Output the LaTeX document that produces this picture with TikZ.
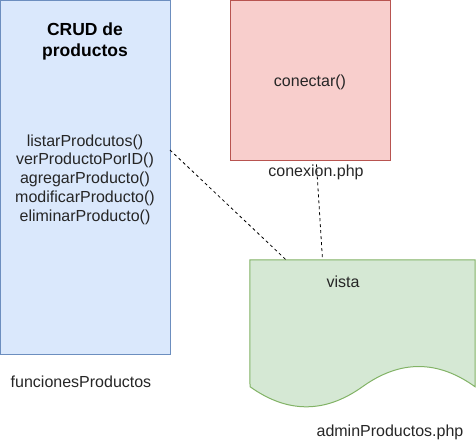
\documentclass[tikz,border=0pt]{standalone}
\usepackage{fontspec}
\setmainfont{Liberation Sans}
\usepackage{xcolor}
\usetikzlibrary{positioning, calc}

\definecolor{crudFill}{HTML}{DAE8FC}
\definecolor{crudLine}{HTML}{6C8EBF}
\definecolor{connFill}{HTML}{F8CECC}
\definecolor{connLine}{HTML}{B85450}
\definecolor{viewFill}{HTML}{D5E8D4}
\definecolor{viewLine}{HTML}{82B366}

\begin{document}
\begin{tikzpicture}[
    x=1pt, y=-1pt,
    module/.style={draw, rectangle, line width=1pt, outer sep=0pt, inner sep=0pt},
    label/.style={inner sep=0pt, text=black!85, align=center, font=\fontsize{16}{18.8}\selectfont},
    title/.style={inner sep=0pt, text=black, align=center, font=\bfseries\fontsize{17.5}{20.7}\selectfont},
    link/.style={draw, line width=0.8pt, dash pattern=on 3pt off 3pt}
]
    \useasboundingbox (0,0) rectangle (476,441);

    % Nodes
    \node[module, fill=crudFill, draw=crudLine, minimum width=169.5pt, minimum height=353.5pt] (crud) at (85.25,177.25) {};
    \node[title] (crudTitle) at (85,41.5) {CRUD de\\productos};
    \node[label] (crudMethods) at (85,179.5) {listarProdcutos()\\verProductoPorID()\\agregarProducto()\\modificarProducto()\\eliminarProducto()};
    \node[label] (crudFile) at (81,382) {funcionesProductos};

    \node[module, fill=connFill, draw=connLine, minimum width=160pt, minimum height=160pt] (conn) at (310.5,80.5) {};
    \node[label] (connMethod) at (310,82) {conectar()};
    \node[label] (connFile) at (316,172) {conexion.php};

    % document shape for the view
    \node[rectangle, inner sep=0pt, minimum width=225pt, minimum height=149pt] (admin) at (362.5,334.5) {};
    \filldraw[fill=viewFill, draw=viewLine, line width=1pt]
        (admin.north west) -- (admin.north east) -- (475,386.7)
        .. controls (437.5,359.8) and (400,359.8) .. (362.5,386.7)
        .. controls (325,413.5) and (287.5,413.5) .. (250,386.7) -- cycle;
    \node[label] (adminView) at (343,282) {vista};
    \node[label] (adminFile) at (390,432) {adminProductos.php};

    % Connections
    \draw[link] (crud.east |- 0,150) -- (admin.north -| 286,0);
    \draw[link] ($(connFile.north)+(0.5,0)$) -- (admin.north -| 322.5,0);

\end{tikzpicture}
\end{document}
